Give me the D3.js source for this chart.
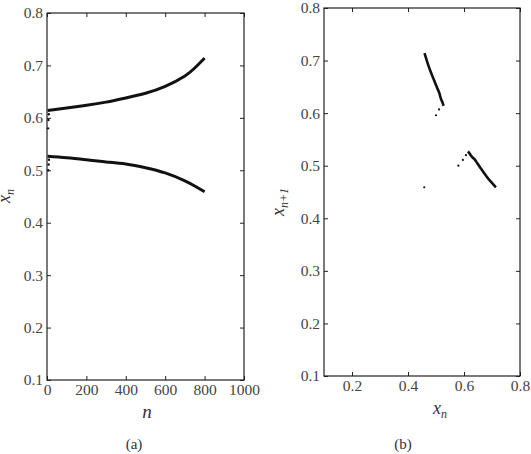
<!DOCTYPE html>
<html>
<head>
<meta charset="utf-8">
<script src="https://cdn.jsdelivr.net/npm/d3@7/dist/d3.min.js"></script>
<style>
  html, body { margin: 0; padding: 0; background: #fff; }
  svg { display: block; }
</style>
</head>
<body>
<svg id="chart" width="531" height="454"></svg>
<script>
// Iteration index samples and the two period-2 branches
const nSamples    = [3, 100, 200, 300, 400, 500, 600, 700, 750, 800];
const upperBranch = [0.614, 0.619, 0.624, 0.630, 0.638, 0.647, 0.660, 0.680, 0.695, 0.714];
const lowerBranch = [0.527, 0.524, 0.520, 0.516, 0.512, 0.505, 0.495, 0.480, 0.470, 0.459];

// transient iterates at the very start (n = 0..5)
const transientN   = [0, 1, 2, 3, 4, 5];
const transientSeq = [0.580, 0.500, 0.596, 0.511, 0.607, 0.520];
// isolated point seen in the return map
const strayPoint = [0.458, 0.459];

const nTicks = [0, 200, 400, 600, 800, 1000];
const xTicksB = [0.2, 0.4, 0.6, 0.8];
const yTicks = [0.1, 0.2, 0.3, 0.4, 0.5, 0.6, 0.7, 0.8];

const FONT = "'Liberation Serif', 'Times New Roman', serif";
const svg = d3.select("#chart");
const fmt = d3.format(".1f");

function styleTicks(s) {
  s.select(".domain").remove();
  s.selectAll(".tick line").attr("stroke", "#222");
  s.selectAll(".tick text")
    .style("font-family", FONT).style("font-size", "15.5px").style("fill", "#444");
}

function frame(g, x, y, xt, xFmt) {
  const [x0, x1] = x.range();
  const [y0, y1] = y.range();
  g.append("g").attr("transform", `translate(0,${y0})`)
    .call(d3.axisBottom(x).tickValues(xt).tickSizeInner(-4).tickSizeOuter(0).tickPadding(4).tickFormat(xFmt))
    .call(styleTicks);
  g.append("g").attr("transform", `translate(0,${y1})`)
    .call(d3.axisTop(x).tickValues(xt).tickSizeInner(-4).tickSizeOuter(0).tickFormat(""))
    .call(styleTicks);
  g.append("g").attr("transform", `translate(${x0},0)`)
    .call(d3.axisLeft(y).tickValues(yTicks).tickSizeInner(-4).tickSizeOuter(0).tickPadding(4).tickFormat(fmt))
    .call(styleTicks);
  g.append("g").attr("transform", `translate(${x1},0)`)
    .call(d3.axisRight(y).tickValues(yTicks).tickSizeInner(-4).tickSizeOuter(0).tickFormat(""))
    .call(styleTicks);
  g.append("rect")
    .attr("x", x0).attr("y", y1)
    .attr("width", x1 - x0).attr("height", y0 - y1)
    .attr("fill", "none").attr("stroke", "#222").attr("stroke-width", 1.2);
}

function label(g, x, y, size, italic, txt) {
  return g.append("text")
    .attr("x", x).attr("y", y).attr("text-anchor", "middle")
    .style("font-family", FONT).style("font-size", size + "px")
    .style("font-style", italic ? "italic" : "normal").style("fill", "#333")
    .text(txt);
}

function subLabel(g, x, y, main, sub, rotate) {
  const t = g.append("text")
    .attr("text-anchor", "middle")
    .attr("transform", `translate(${x},${y})` + (rotate ? " rotate(-90)" : ""))
    .style("font-family", FONT).style("font-size", "18px")
    .style("font-style", "italic").style("fill", "#333");
  t.append("tspan").text(main);
  t.append("tspan").style("font-size", "12px").attr("dy", 4).text(sub);
}

// ---- panel (a): x_n versus n
const xA = d3.scaleLinear().domain([0, 1000]).range([47, 244]);
const yA = d3.scaleLinear().domain([0.1, 0.8]).range([380, 13]);
const gA = svg.append("g");

const lineA = d3.line().x(d => xA(d[0])).y(d => yA(d[1])).curve(d3.curveNatural);
[upperBranch, lowerBranch].forEach(br => {
  gA.append("path")
    .datum(nSamples.map((n, i) => [n, br[i]]))
    .attr("d", lineA)
    .attr("fill", "none").attr("stroke", "#111").attr("stroke-width", 3);
});
gA.selectAll("circle.tr")
  .data(transientN.map((n, i) => [n, transientSeq[i]]))
  .join("circle").attr("class", "tr")
  .attr("cx", d => xA(d[0]) + 1).attr("cy", d => yA(d[1])).attr("r", 1.2).attr("fill", "#111");

frame(gA, xA, yA, nTicks, d3.format("d"));
label(gA, 147, 418, 19, true, "n");
subLabel(gA, 10, 196, "x", "n", true);
label(gA, 134, 449, 15, false, "(a)");

// ---- panel (b): return map x_{n+1} versus x_n
const xB = d3.scaleLinear().domain([0.1, 0.8]).range([324, 520]);
const yB = d3.scaleLinear().domain([0.1, 0.8]).range([376, 8]);
const gB = svg.append("g");

const lineB = d3.line().x(d => xB(d[0])).y(d => yB(d[1])).curve(d3.curveNatural);
// (lower, next upper) and (upper, next lower)
const segLU = lowerBranch.map((v, i) => [v, upperBranch[i]]);
const segUL = upperBranch.map((v, i) => [v, lowerBranch[i]]);
[segLU, segUL].forEach(seg => {
  gB.append("path").datum(seg).attr("d", lineB)
    .attr("fill", "none").attr("stroke", "#111").attr("stroke-width", 2.6);
});
const pairs = transientSeq.slice(0, -1).map((v, i) => [v, transientSeq[i + 1]]);
pairs.push(strayPoint);
gB.selectAll("circle.tr")
  .data(pairs)
  .join("circle").attr("class", "tr")
  .attr("cx", d => xB(d[0])).attr("cy", d => yB(d[1])).attr("r", 1.1).attr("fill", "#111");

frame(gB, xB, yB, xTicksB, fmt);
subLabel(gB, 440, 414, "x", "n", false);
subLabel(gB, 284, 202, "x", "n+1", true);
label(gB, 403, 449, 15, false, "(b)");
</script>
</body>
</html>
